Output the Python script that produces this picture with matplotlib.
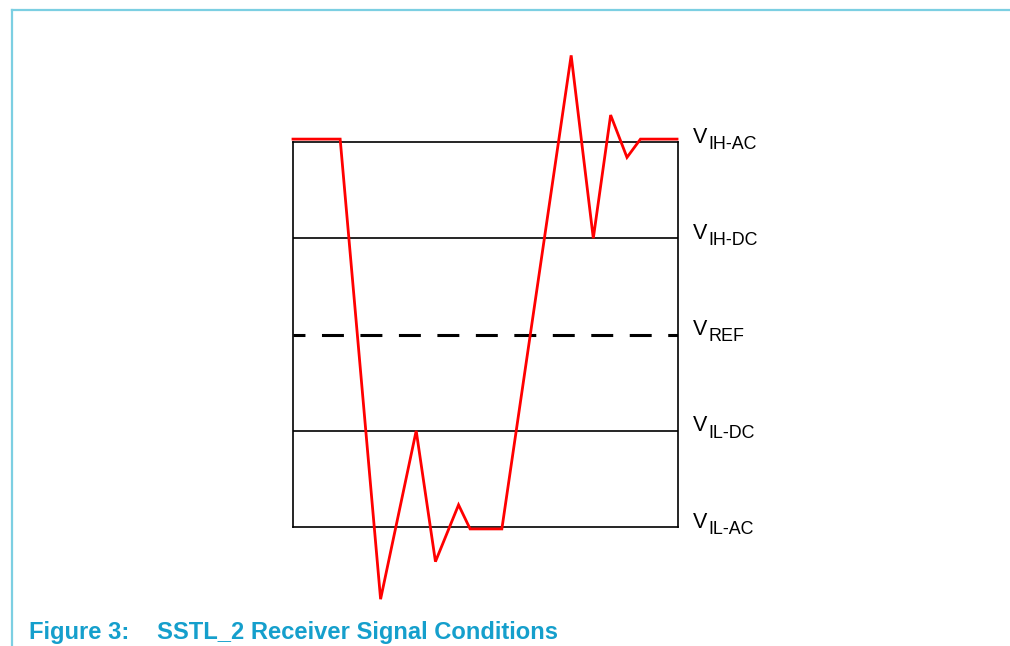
import matplotlib
matplotlib.use('Agg')
import matplotlib.pyplot as plt
from matplotlib.lines import Line2D

plt.rcParams['font.family'] = ['Liberation Sans', 'DejaVu Sans']
plt.rcParams['lines.scale_dashes'] = False

# Threshold levels (relative units, VREF = 0)
levels = [2, 1, 0, -1, -2]
level_names = ['IH-AC', 'IH-DC', 'REF', 'IL-DC', 'IL-AC']

# Receiver input waveform (time, voltage)
t = [0.0, 0.49, 0.91, 1.28, 1.48, 1.72, 1.84, 2.17, 2.89, 3.12, 3.30, 3.47, 3.61, 3.99]
v = [2.03, 2.03, -2.75, -1.0, -2.36, -1.77, -2.02, -2.02, 2.90, 1.0, 2.28, 1.84, 2.03, 2.03]

W, H = 1010, 646
fig = plt.figure(figsize=(W / 100, H / 100), dpi=100)

# outer frame of the document figure
fig.add_artist(Line2D([12 / W, 1], [1 - 10 / H, 1 - 10 / H], color='#7ccfe2', lw=1.6))
fig.add_artist(Line2D([12 / W, 12 / W], [0, 1 - 10 / H], color='#7ccfe2', lw=1.6))

ax = fig.add_axes([293 / W, (H - 527) / H, 385 / W, 385 / H])
ax.set_xlim(0, 4)
ax.set_ylim(-2, 2)
ax.set_xticks([])
ax.set_yticks([])
for s in ax.spines.values():
    s.set_linewidth(1.2)
    s.set_color('black')

for lv in levels[1:-1]:
    if lv == 0:
        ax.axhline(lv, color='black', lw=2.2, linestyle=(7.2, (15.8, 11.9)),
                   dash_capstyle='butt')
    else:
        ax.axhline(lv, color='black', lw=1.2)

ax.plot(t, v, color='#ff0000', lw=2.0, clip_on=False, solid_joinstyle='miter', zorder=5)

for lv, name in zip(levels, level_names):
    ax.annotate('V', xy=(1, lv), xycoords=('axes fraction', 'data'),
                xytext=(10.8, -0.5), textcoords='offset points',
                fontsize=15.5, va='baseline', ha='left')
    ax.annotate(name, xy=(1, lv), xycoords=('axes fraction', 'data'),
                xytext=(22.0, -4.9), textcoords='offset points',
                fontsize=12.9, va='baseline', ha='left')

fig.text(29 / W, (H - 639) / H, 'Figure 3:', fontsize=17.1, fontweight='bold',
         color='#159fcc', va='baseline', ha='left')
fig.text(157 / W, (H - 639) / H, 'SSTL_2 Receiver Signal Conditions', fontsize=17.1,
         fontweight='bold', color='#159fcc', va='baseline', ha='left')

fig.savefig('out.png', dpi=100)
